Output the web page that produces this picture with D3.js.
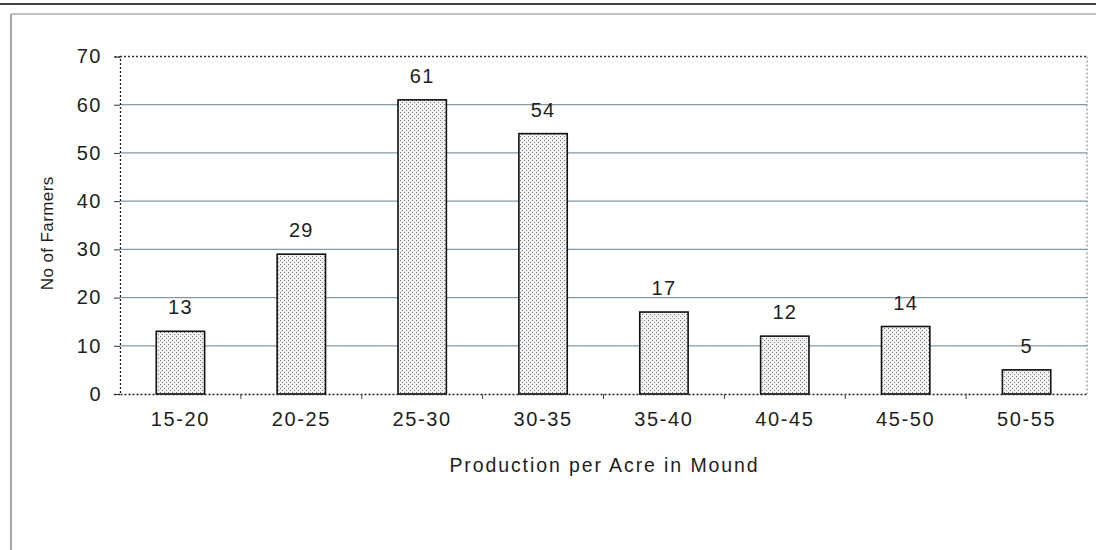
<!DOCTYPE html>
<html><head><meta charset="utf-8">
<script src="https://cdn.jsdelivr.net/npm/d3@7"></script>
<style>
html,body{margin:0;padding:0;background:#fff;}
text{font-family:"Liberation Sans",Arial,sans-serif;fill:#1e1e1e;}
</style></head>
<body>
<svg id="chart" width="1096" height="550"></svg>
<script>
const categories = ["15-20","20-25","25-30","30-35","35-40","40-45","45-50","50-55"];
const farmers = [13,29,61,54,17,12,14,5];
const yTicks = [0,10,20,30,40,50,60,70];
const xTitle = "Production per Acre in Mound";
const yTitle = "No of Farmers";

(function(){
const svg = d3.select("#chart");
const W = 1096, H = 550;
const pL = 120, pR = 1087, pT = 56.5, pB = 394;

// outer frame
svg.append("line").attr("x1",0).attr("x2",W).attr("y1",4).attr("y2",4)
  .attr("stroke","#444").attr("stroke-width",2);
svg.append("line").attr("x1",11).attr("x2",W).attr("y1",14).attr("y2",14)
  .attr("stroke","#7f8c96").attr("stroke-width",1.2);
svg.append("line").attr("x1",11).attr("x2",11).attr("y1",14).attr("y2",H)
  .attr("stroke","#8a8a8a").attr("stroke-width",1.5);

// pattern
const defs = svg.append("defs");
const pat = defs.append("pattern").attr("id","stipple").attr("patternUnits","userSpaceOnUse")
  .attr("width",4).attr("height",4);
pat.append("rect").attr("width",4).attr("height",4).attr("fill","#f2f2f2");
pat.append("rect").attr("x",0).attr("y",0).attr("width",1).attr("height",1).attr("fill","#7a7a7a");
pat.append("rect").attr("x",2).attr("y",2).attr("width",1).attr("height",1).attr("fill","#7a7a7a");

const x = d3.scaleBand().domain(categories).range([pL,pR]).paddingInner(0.6).paddingOuter(0.3);
const xb = d3.scaleBand().domain(categories).range([pL,pR]);
const y = d3.scaleLinear().domain([0,70]).range([pB,pT]);

// gridlines
svg.append("g").selectAll("line").data(yTicks.filter(d=>d>0 && d<70)).join("line")
  .attr("x1",pL).attr("x2",pR).attr("y1",d=>y(d)).attr("y2",d=>y(d))
  .attr("stroke","#8497a8").attr("stroke-width",1.2);

// plot border (dotted)
const dot = "2,2";
svg.append("line").attr("x1",pL).attr("x2",pR).attr("y1",y(70)).attr("y2",y(70))
  .attr("stroke","#333").attr("stroke-width",1.3).attr("stroke-dasharray",dot);
svg.append("line").attr("x1",pR).attr("x2",pR).attr("y1",y(70)).attr("y2",pB)
  .attr("stroke","#777").attr("stroke-width",1).attr("stroke-dasharray",dot);

const font = "Liberation Sans, Arial, sans-serif";
// y axis
const yAxis = d3.axisLeft(y).tickValues(yTicks).tickSize(6).tickPadding(12);
const gy = svg.append("g").attr("transform",`translate(${pL},0)`).call(yAxis);
gy.select(".domain").attr("stroke","#222").attr("stroke-width",1.3).attr("stroke-dasharray",dot);
gy.selectAll(".tick line").attr("stroke","#333");
gy.selectAll("text").attr("font-size",20).attr("letter-spacing",1.5).attr("fill","#1e1e1e")
  .attr("font-family",font);

// bars
svg.append("g").selectAll("rect").data(farmers).join("rect")
  .attr("x",(d,i)=>x(categories[i]))
  .attr("width",x.bandwidth())
  .attr("y",d=>y(d))
  .attr("height",d=>pB-y(d))
  .attr("fill","url(#stipple)")
  .attr("stroke","#111").attr("stroke-width",1.6);

// x axis
const xAxis = d3.axisBottom(xb).tickSize(0).tickPadding(18);
const gx = svg.append("g").attr("transform",`translate(0,${pB})`).call(xAxis);
gx.select(".domain").attr("stroke","#222").attr("stroke-width",1.5).attr("stroke-dasharray",dot);
gx.selectAll("text").attr("font-size",20).attr("letter-spacing",1.6).attr("fill","#1e1e1e")
  .attr("font-family",font);
// boundary ticks
svg.append("g").selectAll("line").data(categories.slice(1)).join("line")
  .attr("x1",d=>xb(d)).attr("x2",d=>xb(d)).attr("y1",pB).attr("y2",pB+5)
  .attr("stroke","#444");

// data labels
svg.append("g").selectAll("text").data(farmers).join("text")
  .attr("x",(d,i)=>xb(categories[i])+xb.bandwidth()/2)
  .attr("y",d=>y(d)-17)
  .attr("text-anchor","middle").attr("font-size",20).attr("letter-spacing",1.2)
  .text(d=>d);

// titles
svg.append("text").attr("x",(pL+pR)/2 + 1).attr("y",472).attr("text-anchor","middle")
  .attr("font-size",19.5).attr("letter-spacing",1.9).text(xTitle);
svg.append("text").attr("transform",`translate(53,${(pT+pB)/2+8}) rotate(-90)`)
  .attr("text-anchor","middle").attr("font-size",17).attr("letter-spacing",0.4).text(yTitle);
})();
</script>
</body></html>
